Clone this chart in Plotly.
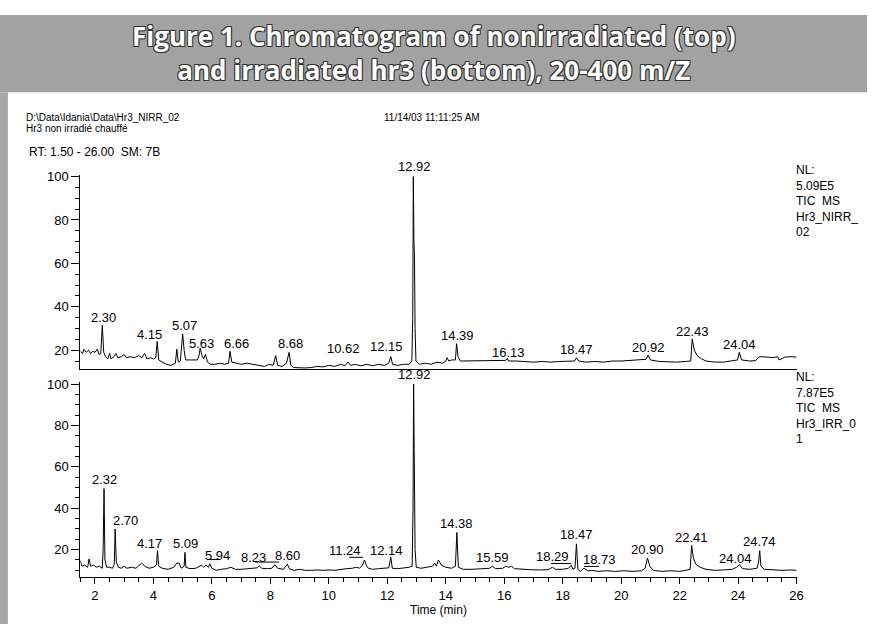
import plotly.graph_objects as go

W, H = 874, 624

# ---------------- data ----------------
# Nonirradiated hr3 (top): (time min, relative abundance %)
top_trace = [
    (1.50, 19.5), (1.58, 18.5), (1.62, 20.5), (1.70, 19.0), (1.78, 20.0), (1.85, 18.5),
    (1.92, 19.5), (2.00, 19.0), (2.08, 20.5), (2.14, 18.0), (2.20, 18.5), (2.25, 31.5),
    (2.30, 19.0), (2.36, 17.0), (2.44, 16.0), (2.50, 18.5), (2.55, 16.0), (2.65, 17.0),
    (2.72, 18.5), (2.78, 16.5), (2.90, 17.0), (3.00, 18.0), (3.08, 16.5), (3.20, 17.0),
    (3.35, 16.5), (3.50, 17.5), (3.60, 16.5), (3.70, 18.5), (3.78, 16.0), (3.90, 16.5),
    (4.00, 16.0), (4.08, 16.5), (4.13, 24.0), (4.18, 15.5), (4.30, 14.5), (4.45, 13.5),
    (4.60, 13.0), (4.75, 14.0), (4.80, 20.5), (4.85, 14.5), (4.92, 15.0), (5.00, 27.5),
    (5.05, 20.0), (5.10, 15.5), (5.30, 15.5), (5.50, 15.5), (5.55, 17.0), (5.60, 21.0),
    (5.66, 17.5), (5.72, 16.0), (5.78, 18.0), (5.85, 14.5), (5.95, 13.5), (6.10, 13.5),
    (6.30, 14.0), (6.45, 13.5), (6.57, 14.0), (6.62, 19.5), (6.68, 14.5), (6.80, 14.0),
    (7.00, 13.5), (7.20, 14.0), (7.40, 13.5), (7.60, 13.0), (7.80, 12.5), (7.95, 13.5),
    (8.10, 13.0), (8.18, 17.5), (8.25, 13.0), (8.40, 12.5), (8.55, 14.0), (8.64, 19.0),
    (8.70, 13.0), (8.80, 12.0), (9.00, 11.8), (9.20, 11.8), (9.40, 12.0), (9.60, 12.5),
    (9.80, 12.3), (10.00, 13.0), (10.20, 12.5), (10.40, 13.5), (10.55, 12.8), (10.65, 14.5),
    (10.75, 13.0), (10.90, 13.5), (11.10, 12.8), (11.30, 13.5), (11.50, 12.8), (11.70, 13.5),
    (11.90, 13.0), (12.05, 14.0), (12.12, 17.0), (12.18, 13.5), (12.35, 13.0), (12.55, 13.5),
    (12.75, 13.5), (12.84, 15.0), (12.87, 35.0), (12.89, 100.0), (12.91, 71.0), (12.93, 62.0),
    (12.95, 30.0), (12.98, 15.0), (13.10, 13.5), (13.30, 14.0), (13.50, 13.5), (13.70, 14.5),
    (13.90, 14.0), (14.00, 15.0), (14.05, 16.5), (14.10, 15.0), (14.20, 15.5), (14.33, 15.5),
    (14.37, 23.0), (14.42, 17.0), (14.50, 15.0), (14.70, 15.0), (15.00, 15.2), (15.30, 15.0),
    (15.60, 15.3), (15.90, 15.0), (16.05, 15.3), (16.10, 16.2), (16.15, 15.0), (16.40, 15.0),
    (16.70, 14.8), (17.00, 14.5), (17.30, 14.8), (17.60, 14.5), (17.90, 14.8), (18.20, 14.8),
    (18.40, 15.0), (18.47, 16.5), (18.55, 15.0), (18.80, 14.5), (19.10, 14.8), (19.40, 14.5),
    (19.70, 15.0), (20.00, 15.0), (20.30, 15.2), (20.60, 15.5), (20.85, 15.8), (20.92, 17.7),
    (21.00, 15.5), (21.30, 14.8), (21.60, 14.5), (21.90, 14.5), (22.20, 14.8), (22.38, 15.0),
    (22.43, 25.2), (22.50, 20.0), (22.60, 17.5), (22.75, 16.0), (22.90, 15.0), (23.20, 14.5),
    (23.50, 14.5), (23.80, 15.0), (23.98, 15.5), (24.04, 19.0), (24.12, 15.5), (24.40, 15.0),
    (24.60, 15.2), (24.70, 16.8), (24.80, 17.0), (25.00, 16.8), (25.20, 16.6), (25.35, 17.0),
    (25.40, 15.5), (25.60, 16.8), (25.80, 17.0), (26.00, 16.8),
]

# Irradiated hr3 (bottom)
bot_trace = [
    (1.50, 14.7), (1.55, 12.0), (1.65, 12.5), (1.75, 11.5), (1.80, 15.5), (1.85, 12.0),
    (1.95, 12.5), (2.05, 11.5), (2.15, 12.0), (2.25, 11.0), (2.28, 20.0), (2.31, 49.5),
    (2.34, 15.0), (2.40, 11.5), (2.50, 11.5), (2.60, 11.0), (2.66, 13.0), (2.69, 30.0),
    (2.73, 14.0), (2.80, 11.5), (2.90, 11.0), (3.00, 12.0), (3.10, 11.0), (3.25, 11.5),
    (3.40, 11.0), (3.50, 12.5), (3.60, 13.5), (3.70, 12.0), (3.85, 11.0), (4.00, 11.5),
    (4.10, 12.5), (4.14, 19.5), (4.18, 12.0), (4.30, 11.0), (4.50, 10.5), (4.70, 11.5),
    (4.80, 13.5), (4.88, 13.5), (4.95, 11.0), (5.05, 12.0), (5.08, 18.7), (5.11, 11.5),
    (5.25, 10.8), (5.45, 11.0), (5.65, 12.5), (5.72, 11.5), (5.80, 12.5), (5.88, 11.5),
    (5.93, 13.2), (6.00, 11.0), (6.15, 10.0), (6.30, 10.5), (6.50, 10.8), (6.65, 11.5),
    (6.80, 10.5), (7.00, 10.5), (7.20, 10.8), (7.40, 11.0), (7.55, 11.2), (7.62, 12.2),
    (7.70, 11.0), (7.90, 10.8), (8.05, 11.0), (8.15, 12.7), (8.25, 11.0), (8.45, 10.5),
    (8.58, 13.0), (8.65, 10.8), (8.80, 10.0), (9.00, 10.5), (9.20, 10.0), (9.40, 10.0),
    (9.60, 10.2), (9.80, 10.0), (10.00, 10.2), (10.20, 10.0), (10.40, 10.5), (10.60, 10.8),
    (10.80, 11.0), (10.95, 11.5), (11.05, 11.0), (11.15, 12.5), (11.22, 15.0), (11.28, 12.5),
    (11.35, 11.0), (11.50, 10.5), (11.70, 10.8), (11.90, 11.0), (12.05, 11.2), (12.12, 16.3),
    (12.17, 11.0), (12.35, 10.8), (12.55, 11.0), (12.75, 11.5), (12.85, 12.0), (12.88, 40.0),
    (12.90, 100.0), (12.92, 60.0), (12.95, 20.0), (12.99, 11.5), (13.15, 11.0), (13.35, 11.5),
    (13.55, 12.0), (13.62, 13.5), (13.68, 12.0), (13.75, 15.0), (13.85, 12.5), (14.00, 11.5),
    (14.20, 11.0), (14.33, 12.0), (14.38, 28.3), (14.43, 11.5), (14.60, 10.5), (14.90, 10.5),
    (15.20, 10.8), (15.50, 11.0), (15.59, 12.0), (15.70, 10.8), (15.95, 11.0), (16.05, 12.0),
    (16.15, 11.5), (16.25, 12.0), (16.35, 10.8), (16.60, 10.5), (16.90, 10.3), (17.20, 10.2),
    (17.50, 10.3), (17.65, 11.5), (17.75, 10.5), (18.00, 10.5), (18.20, 11.0), (18.29, 12.5),
    (18.35, 10.5), (18.42, 11.0), (18.47, 22.8), (18.52, 10.5), (18.60, 9.5), (18.73, 11.0),
    (18.85, 9.8), (19.00, 10.0), (19.20, 9.5), (19.50, 9.8), (19.80, 9.5), (20.10, 9.8),
    (20.40, 9.5), (20.70, 9.8), (20.82, 11.0), (20.90, 16.0), (20.98, 12.0), (21.10, 10.0),
    (21.40, 9.5), (21.70, 9.8), (22.00, 9.5), (22.20, 10.0), (22.36, 10.5), (22.41, 22.0),
    (22.47, 16.0), (22.55, 13.0), (22.70, 11.5), (22.90, 10.5), (23.20, 10.0), (23.50, 10.2),
    (23.80, 10.5), (23.95, 11.5), (24.04, 12.8), (24.15, 10.8), (24.40, 10.5), (24.65, 11.0),
    (24.70, 14.0), (24.74, 19.5), (24.78, 12.0), (24.90, 10.5), (25.20, 10.2), (25.50, 10.0),
    (25.80, 10.2), (26.00, 10.0),
]

top_time = [p[0] for p in top_trace]
top_int = [p[1] for p in top_trace]
bot_time = [p[0] for p in bot_trace]
bot_int = [p[1] for p in bot_trace]

# peak labels (retention times) and the height at which each label sits
top_labels = ["2.30", "4.15", "5.07", "5.63", "6.66", "8.68", "10.62", "12.15",
              "14.39", "16.13", "18.47", "20.92", "22.43", "24.04"]
top_label_y = [35.1, 27.0, 31.4, 22.9, 22.9, 23.0, 20.6, 21.8,
               26.8, 19.0, 20.4, 21.4, 28.5, 22.4]
bot_labels = ["2.32", "2.70", "4.17", "5.09", "5.94", "8.23", "8.60", "11.24", "12.14",
              "14.38", "15.59", "18.29", "18.47", "18.73", "20.90", "22.41", "24.04", "24.74"]
bot_label_y = [53.9, 33.9, 23.0, 23.0, 17.1, 16.0, 17.1, 19.5, 19.6,
               32.6, 16.0, 16.6, 27.2, 15.0, 20.3, 25.9, 15.5, 24.0]
top_main_peak = "12.92"
bot_main_peak = "12.92"

# label horizontal offsets (px) where the label is set aside from its peak
top_label_dx = {"4.15": -8, "6.66": 5, "10.62": -3, "12.15": -5}
bot_label_dx = {"2.70": 10, "4.17": -9, "5.94": 7, "8.23": -24, "11.24": -20,
                "12.14": -5, "18.29": -19, "18.73": 15, "24.04": -4}
# leader lines under shifted labels: (px start, px end relative to peak, height)
bot_leaders = {"5.94": (-3, 9, 15.2), "8.23": (-22, 2, 14.0), "11.24": (-16, -2, 16.3),
               "18.29": (-20, 0, 13.3), "18.73": (0, 15, 11.9)}

x_ticks = [2, 4, 6, 8, 10, 12, 14, 16, 18, 20, 22, 24, 26]
y_ticks = [20, 40, 60, 80, 100]

# ---------------- layout helpers ----------------
def px_x(p):
    return p / W

def px_y(p):
    return 1 - p / H

FONT = "Liberation Sans, Arial, sans-serif"

fig = go.Figure()
fig.add_trace(go.Scatter(x=top_time, y=top_int, mode="lines",
                         line=dict(color="black", width=1), xaxis="x", yaxis="y",
                         hoverinfo="skip", showlegend=False))
fig.add_trace(go.Scatter(x=bot_time, y=bot_int, mode="lines",
                         line=dict(color="black", width=1), xaxis="x2", yaxis="y2",
                         hoverinfo="skip", showlegend=False))

xdom = [px_x(81), px_x(803)]
common_y = dict(tickmode="array", tickvals=y_ticks, ticks="outside", ticklen=8,
                tickwidth=1, tickcolor="black", showline=True, linecolor="black",
                linewidth=1, showgrid=False, zeroline=False,
                tickfont=dict(family=FONT, size=13, color="black"),
                minor=dict(dtick=5, ticks="outside", ticklen=4, tickcolor="black"),
                fixedrange=True)

fig.update_layout(
    width=W, height=H,
    margin=dict(l=0, r=0, t=0, b=0),
    paper_bgcolor="white", plot_bgcolor="white",
    showlegend=False,
    xaxis=dict(domain=xdom, range=[1.5, 26], anchor="y", showline=True,
               linecolor="black", linewidth=1, showticklabels=False, ticks="",
               showgrid=False, zeroline=False),
    yaxis=dict(domain=[px_y(367), px_y(171)], range=[11.3, 100.9], anchor="x", **common_y),
    xaxis2=dict(domain=xdom, range=[1.5, 26], anchor="y2", showline=True,
                linecolor="black", linewidth=1, showgrid=False, zeroline=False,
                tickmode="array", tickvals=x_ticks, ticks="outside", ticklen=6,
                tickcolor="black", tickfont=dict(family=FONT, size=13, color="black"),
                minor=dict(dtick=0.5, ticks="outside", ticklen=4, tickcolor="black"),
                title=dict(text="Time (min)", font=dict(family=FONT, size=12, color="black"),
                           standoff=2)),
    yaxis2=dict(domain=[px_y(577), px_y(380)], range=[6.6, 101], anchor="x2", **common_y),
)

ann = []
# peak labels
for t, yv in zip(top_labels, top_label_y):
    ann.append(dict(x=float(t), y=yv, xref="x", yref="y", text=t, showarrow=False,
                    xshift=top_label_dx.get(t, 0),
                    font=dict(family=FONT, size=13, color="black")))
for t, yv in zip(bot_labels, bot_label_y):
    ann.append(dict(x=float(t), y=yv, xref="x2", yref="y2", text=t, showarrow=False,
                    xshift=bot_label_dx.get(t, 0),
                    font=dict(family=FONT, size=13, color="black")))
ann.append(dict(x=float(top_main_peak), y=100, xref="x", yref="y", text=top_main_peak,
                showarrow=False, yanchor="bottom", yshift=1,
                font=dict(family=FONT, size=13, color="black")))
ann.append(dict(x=float(bot_main_peak), y=100, xref="x2", yref="y2", text=bot_main_peak,
                showarrow=False, yanchor="bottom", yshift=0,
                font=dict(family=FONT, size=13, color="black")))

# header texts
def txt(x, y, s, size, xanchor="left", **kw):
    return dict(x=px_x(x), y=px_y(y), xref="paper", yref="paper", text=s,
                showarrow=False, xanchor=xanchor, yanchor="middle",
                font=dict(family=FONT, size=size, color="black"), **kw)

ann.append(txt(24, 113, "D:\\Data\\Idania\\Data\\Hr3_NIRR_02", 10))
ann.append(txt(24, 125, "Hr3 non irradié chauffé", 10))
ann.append(txt(385, 113, "11/14/03 11:11:25 AM", 10))
ann.append(txt(27, 148, "RT: 1.50 - 26.00  SM: 7B", 12))
ann.append(dict(x=px_x(800), y=px_y(157), xref="paper", yref="paper",
                text="NL:<br>5.09E5<br>TIC  MS<br>Hr3_NIRR_<br>02", align="left",
                showarrow=False, xanchor="left", yanchor="top",
                font=dict(family=FONT, size=12, color="black")))
ann.append(dict(x=px_x(800), y=px_y(366), xref="paper", yref="paper",
                text="NL:<br>7.87E5<br>TIC  MS<br>Hr3_IRR_0<br>1", align="left",
                showarrow=False, xanchor="left", yanchor="top",
                font=dict(family=FONT, size=12, color="black")))

# banner title (two lines in one text block)
title_font = dict(family="Open Sans, sans-serif", size=26, color="white", weight="bold",
                  shadow="1px 1px 0 #333, -1px -1px 0 #333, 1px -1px 0 #333, -1px 1px 0 #333")
ann.append(dict(x=0.5, y=px_y(48), xref="paper", yref="paper",
                text="Figure 1. Chromatogram of nonirradiated (top)<br>"
                     "and irradiated hr3 (bottom), 20-400 m/Z",
                showarrow=False, xanchor="center", yanchor="middle", align="center",
                font=title_font))

fig.update_layout(annotations=ann)

shapes = [
    dict(type="rect", xref="paper", yref="paper", x0=0, x1=1, y0=px_y(88), y1=px_y(10),
         fillcolor="#a2a2a2", line=dict(width=0), layer="below"),
    dict(type="rect", xref="paper", yref="paper", x0=0, x1=px_x(8), y0=0, y1=px_y(88),
         fillcolor="#a8a8a8", line=dict(width=0), layer="below"),
]
for t, (d0, d1, yv) in bot_leaders.items():
    shapes.append(dict(type="line", xref="x2", yref="y2", xsizemode="pixel",
                       xanchor=float(t), x0=d0, x1=d1, y0=yv, y1=yv,
                       line=dict(color="black", width=1)))
fig.update_layout(shapes=shapes)

fig.write_html("out.html", config={"displayModeBar": False, "staticPlot": True},
               post_script="document.body.style.margin='0';")
